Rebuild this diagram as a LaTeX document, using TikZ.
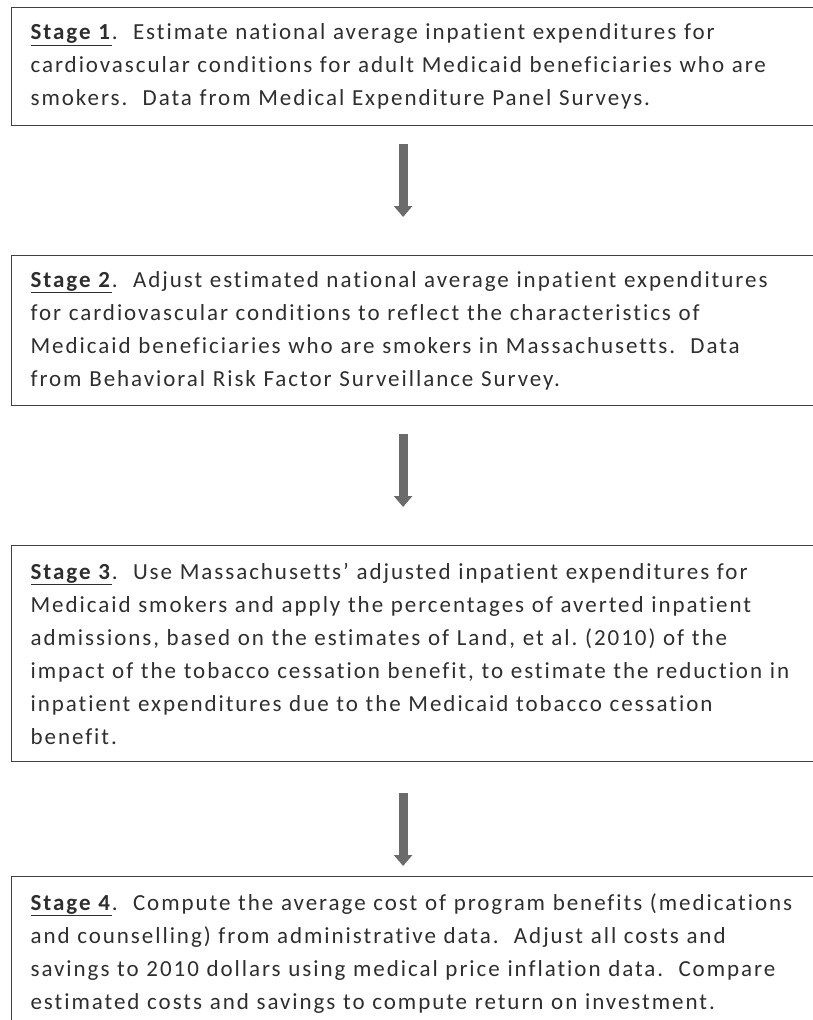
\documentclass[tikz,border=0pt]{standalone}
\usepackage{fontspec}
\setmainfont[LetterSpace=8.5, WordSpace=0.7, Ligatures={TeX,NoCommon}]{Carlito}
\usetikzlibrary{arrows.meta}

\tikzset{
  etapa/.style={draw=black!75, line width=1.2pt, anchor=north west,
    text width=790pt, inner xsep=19pt, inner ysep=0pt, align=left,
    font=\fontsize{23}{33}\selectfont\frenchspacing, text=black!82},
  flecha/.style={draw=black!58, line width=9pt,
    -{Triangle[width=18pt,length=11pt]}}
}
\newcommand{\etapatit}[1]{\underline{\textbf{Stage #1}}}

\begin{document}
\begin{tikzpicture}[x=1pt,y=-1pt]
  % Marco de la figura
  \useasboundingbox (0,0) rectangle (812,1020);

  % Etapas
  \node[etapa, minimum height=118pt] (s1) at (11,7) {\etapatit{1}. \ Estimate national average inpatient expenditures for\\
    cardiovascular conditions for adult Medicaid beneficiaries who are\\
    smokers. \ Data from Medical Expenditure Panel Surveys.};
  \node[etapa, minimum height=150pt] (s2) at (11,255) {\etapatit{2}. \ Adjust estimated national average inpatient expenditures\\
    for cardiovascular conditions to reflect the characteristics of\\
    Medicaid beneficiaries who are smokers in Massachusetts. \ Data\\
    from Behavioral Risk Factor Surveillance Survey.};
  \node[etapa, minimum height=216pt] (s3) at (11,545) {\etapatit{3}. \ Use Massachusetts' adjusted inpatient expenditures for\\
    Medicaid smokers and apply the percentages of averted inpatient\\
    admissions, based on the estimates of Land, et al. (2010) of the\\
    impact of the tobacco cessation benefit, to estimate the reduction in\\
    inpatient expenditures due to the Medicaid tobacco cessation\\
    benefit.};
  \node[etapa, minimum height=153pt] (s4) at (11,876) {\etapatit{4}. \ Compute the average cost of program benefits (medications\\
    and counselling) from administrative data. \ Adjust all costs and\\
    savings to 2010 dollars using medical price inflation data. \ Compare\\
    estimated costs and savings to compute return on investment.};

  % Flechas entre etapas
  \draw[flecha, shorten <=18pt, shorten >=38pt] ([xshift=-22.5pt]s1.south) -- ([xshift=-22.5pt]s2.north);
  \draw[flecha, shorten <=28pt, shorten >=38pt] ([xshift=-22.5pt]s2.south) -- ([xshift=-22.5pt]s3.north);
  \draw[flecha, shorten <=31pt, shorten >=10pt] ([xshift=-22.5pt]s3.south) -- ([xshift=-22.5pt]s4.north);
\end{tikzpicture}
\end{document}
